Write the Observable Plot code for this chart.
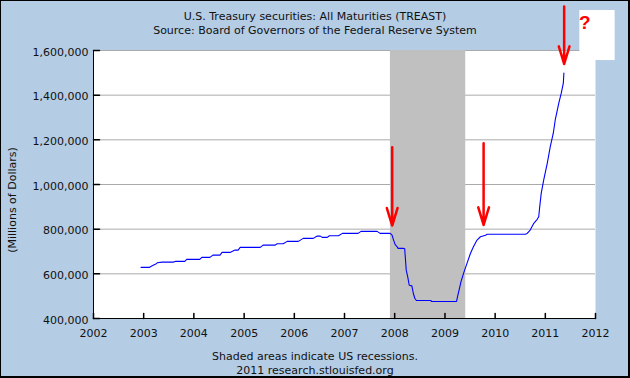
<!DOCTYPE html>
<html>
<head>
<meta charset="utf-8">
<script src="https://cdn.jsdelivr.net/npm/d3@7"></script>
<script src="https://cdn.jsdelivr.net/npm/@observablehq/plot@0.6"></script>
<style>
html, body { margin: 0; padding: 0; background: #fff; }
#chart { position: relative; width: 630px; height: 378px; background: #b4cce4; overflow: hidden;
  font-family: "DejaVu Sans", sans-serif; color: #111; }
#chart svg { position: absolute; left: 0; top: 0; }
.t { position: absolute; left: 0; width: 630px; text-align: center; font-size: 11px; white-space: nowrap; }
#title { top: 10px; line-height: 14px; }
#caption { top: 350px; line-height: 13.5px; }
#ylab { position: absolute; left: -87px; top: 193px; width: 200px; height: 14px; line-height: 14px;
  text-align: center; font-size: 11px; transform: rotate(-90deg); transform-origin: 50% 50%; white-space: nowrap; }
#border { position: absolute; left: 0; top: 0; width: 630px; height: 378px; box-sizing: border-box;
  border: 1px solid #000; border-right-width: 2px; border-bottom-width: 2px; pointer-events: none; }
</style>
</head>
<body>
<div id="chart">
  <div class="t" id="title">U.S. Treasury securities: All Maturities (TREAST)<br>Source: Board of Governors of the Federal Reserve System</div>
  <div id="ylab">(Millions of Dollars)</div>
  <div class="t" id="caption">Shaded areas indicate US recessions.<br>2011 research.stlouisfed.org</div>
  <div id="border"></div>
</div>
<script>
// ---- data ----
const weeks = [
  "2002-12-13","2003-02-10","2003-03-04","2003-03-30","2003-04-10","2003-05-16","2003-08-04","2003-08-19",
  "2003-10-27","2003-11-10","2004-02-13","2004-02-28","2004-04-27","2004-05-19","2004-07-09","2004-07-24",
  "2004-09-20","2004-10-27","2004-11-18","2004-12-03","2005-04-28","2005-05-19","2005-08-15","2005-08-29",
  "2005-10-12","2005-11-10","2006-01-30","2006-03-07","2006-05-19","2006-06-17","2006-07-09","2006-07-23",
  "2006-08-29","2006-09-13","2006-11-18","2006-12-17","2007-04-10","2007-05-01","2007-08-26","2007-09-17",
  "2007-11-29","2007-12-13","2007-12-24","2008-01-04","2008-01-19","2008-01-26","2008-03-03","2008-03-14",
  "2008-03-25","2008-04-05","2008-04-16","2008-05-05","2008-05-16","2008-05-27","2008-06-07","2008-09-21",
  "2008-09-24","2009-03-26","2009-04-02","2009-04-16","2009-04-27","2009-05-16","2009-06-10","2009-07-05",
  "2009-07-27","2009-08-22","2009-09-16","2009-10-23","2009-11-03","2010-08-08","2010-08-22","2010-09-13",
  "2010-10-09","2010-11-03","2010-11-14","2010-11-21","2010-12-02","2010-12-20","2011-01-15","2011-02-06",
  "2011-02-28","2011-03-14","2011-04-09","2011-04-27","2011-05-12","2011-05-16"
];
const treasuryHoldings = [
  628700, 628700, 635900, 643500, 649300, 652500, 652500, 655600,
  655600, 664600, 664600, 673500, 673500, 683900, 683900, 696000,
  696000, 706300, 706300, 718400, 718400, 728700, 728700, 734500,
  734500, 745300, 745300, 758700, 758700, 769000, 769000, 763200,
  763200, 770400, 770400, 781200, 781200, 790100, 790100, 781200,
  781200, 773500, 751000, 731800, 721000, 714000, 714000, 712000,
  616600, 586500, 549000, 546000, 512000, 489700, 480700, 480700,
  476200, 476200, 497000, 534000, 564000, 602000, 647000, 691000,
  721000, 751000, 766000, 773000, 777000, 777000, 781000, 796000,
  826000, 844000, 855600, 900000, 960500, 1020000, 1095000, 1169500,
  1229600, 1289000, 1364000, 1409000, 1454000, 1499000
];
const recessionStart = ["2007-12-01"];
const recessionEnd = ["2009-06-01"];
const yearTicks = ["2002","2003","2004","2005","2006","2007","2008","2009","2010","2011","2012"];
const valueTicks = [400000, 600000, 800000, 1000000, 1200000, 1400000, 1600000];
// hand-drawn annotations on the reference
const arrowDates = ["2007-12-14", "2009-10-09", "2011-05-18"];
const arrowFrom = [1167000, 1185000, 1797000];
const arrowTo = [816000, 819000, 1540000];
const noteBoxX = ["2011-09-09", "2012-05-23"];
const noteBoxY = [1555000, 1779000];
const noteText = ["?"];
const noteDate = ["2011-10-16"];
const noteValue = [1722000];

// ---- build ----
const series = weeks.map((d, i) => ({date: new Date(d), value: treasuryHoldings[i]}));
const years = yearTicks.map(y => new Date(y + "-01-01"));
const recessions = recessionStart.map((s, i) => ({start: new Date(s), end: new Date(recessionEnd[i])}));
const arrows = arrowDates.map((d, i) => ({date: new Date(d), from: arrowFrom[i], to: arrowTo[i]}));
const boxes = [{x1: new Date(noteBoxX[0]), x2: new Date(noteBoxX[1]), y1: noteBoxY[0], y2: noteBoxY[1]}];
const notes = noteText.map((t, i) => ({text: t, date: new Date(noteDate[i]), value: noteValue[i]}));
const tickShape = {draw(context, l) { context.moveTo(0, 0); context.lineTo(0, -l); }};

const chart = Plot.plot({
  width: 630, height: 378,
  marginLeft: 93, marginRight: 35, marginTop: 50, marginBottom: 60,
  x: {type: "utc", domain: [years[0], years[years.length - 1]]},
  y: {domain: [valueTicks[0], valueTicks[valueTicks.length - 1]]},
  style: {background: "transparent", fontFamily: "DejaVu Sans, sans-serif", fontSize: "11px", color: "#111", overflow: "visible"},
  marks: [
    Plot.frame({fill: "white", stroke: "none"}),
    Plot.gridY(valueTicks.slice(1), {stroke: "#aaaaaa", strokeOpacity: 1}),
    Plot.rect(recessions, {x1: "start", x2: "end", y1: valueTicks[0], y2: valueTicks[valueTicks.length - 1], fill: "#c0c0c0"}),
    Plot.line(series, {x: "date", y: "value", stroke: "#0000ff", strokeWidth: 1.1}),
    Plot.ruleY([valueTicks[0]], {stroke: "#000"}),
    Plot.ruleX([years[0]], {stroke: "#000"}),
    Plot.vector(valueTicks, {y: d => d, frameAnchor: "left", length: 6, rotate: 90, anchor: "start", shape: tickShape, stroke: "#000"}),
    Plot.vector(years, {x: d => d, frameAnchor: "bottom", length: 5, rotate: 0, anchor: "start", shape: tickShape, stroke: "#000"}),
    Plot.axisX(years, {tickSize: 0, tickPadding: 11, tickFormat: d3.utcFormat("%Y"), label: null, fill: "#111"}),
    Plot.axisY(valueTicks, {tickSize: 0, tickPadding: 5, tickFormat: d3.format(","), label: null, fill: "#111", dy: 1.5}),
    Plot.rect(boxes, {x1: "x1", x2: "x2", y1: "y1", y2: "y2", fill: "white"}),
    Plot.arrow(arrows, {x1: "date", x2: "date", y1: "from", y2: "to", stroke: "#ff0000", strokeWidth: 2.5, headAngle: 34, headLength: 11}),
    Plot.text(notes, {x: "date", y: "value", text: "text", fill: "#ff0000", fontSize: 19, fontWeight: "bold", fontFamily: "Liberation Sans Narrow, Liberation Sans, sans-serif"})
  ]
});
document.getElementById("chart").insertBefore(chart, document.getElementById("title"));
</script>
</body>
</html>
